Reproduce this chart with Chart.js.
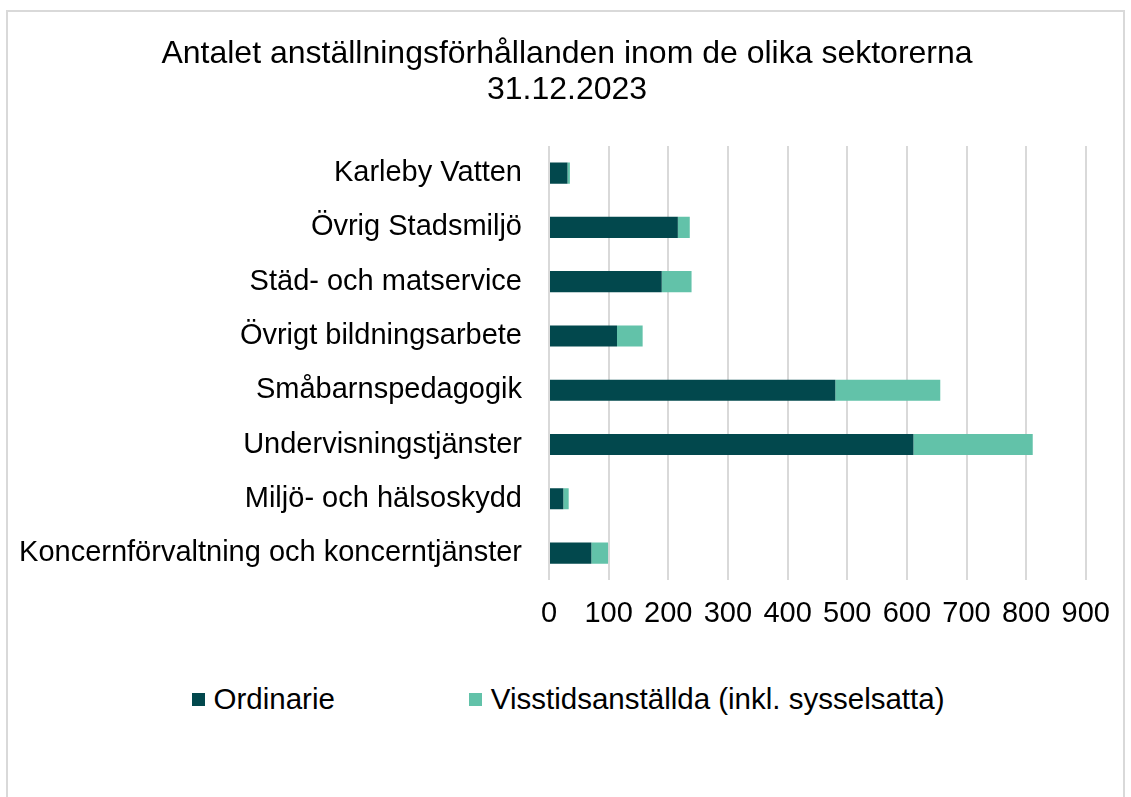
<!DOCTYPE html>
<html>
<head>
<meta charset="utf-8">
<script src="https://cdn.jsdelivr.net/npm/chart.js@4/dist/chart.umd.min.js"></script>
<style>
  body { margin: 0; background: #fff; font-family: "Liberation Sans", Arial, sans-serif; }
  #frame { position: absolute; left: 6px; top: 10px; width: 1119px; height: 800px; box-sizing: border-box; border: 2px solid #d9d9d9; background: #fff; }
  #chart { position: absolute; left: 0; top: 0; }
  #legend { position: absolute; left: 5px; right: 0; top: 670px; display: flex; justify-content: center; gap: 134px; font-size: 29.5px; color: #000; }
  .item { display: flex; align-items: center; }
  .box { width: 13px; height: 13px; margin-right: 9px; }
</style>
</head>
<body>
<div id="frame">
  <canvas id="chart" width="1118" height="647"></canvas>
  <div id="legend"></div>
</div>
<script>
const titleLines = ["Antalet anställningsförhållanden inom de olika sektorerna", "31.12.2023"];
const sectors = [
  "Karleby Vatten",
  "Övrig Stadsmiljö",
  "Städ- och matservice",
  "Övrigt bildningsarbete",
  "Småbarnspedagogik",
  "Undervisningstjänster",
  "Miljö- och hälsoskydd",
  "Koncernförvaltning och koncerntjänster"
];
const seriesNames = ["Ordinarie", "Visstidsanställda (inkl. sysselsatta)"];
const ordinarie = [31, 216, 189, 114, 480, 611, 24, 71];
const visstid = [4, 20, 50, 43, 176, 200, 9, 28];
const xTicks = [0, 100, 200, 300, 400, 500, 600, 700, 800, 900];
const colors = ["#02484d", "#62c2a9"];

const font = { family: "'Liberation Sans', Arial, sans-serif", size: 29 };

const chart = new Chart(document.getElementById("chart"), {
  type: "bar",
  data: {
    labels: sectors,
    datasets: [
      { label: seriesNames[0], data: ordinarie, backgroundColor: colors[0] },
      { label: seriesNames[1], data: visstid, backgroundColor: colors[1] }
    ]
  },
  options: {
    indexAxis: "y",
    responsive: false,
    animation: false,
    barPercentage: 0.39,
    categoryPercentage: 1,
    layout: { padding: { left: 0, right: 0, top: 0, bottom: 12 } },
    plugins: {
      legend: { display: false },
      tooltip: { enabled: false },
      title: {
        display: true,
        text: titleLines,
        color: "#000",
        font: { family: font.family, size: 32, weight: "normal", lineHeight: 1.125 },
        padding: { top: 24, bottom: 38 }
      }
    },
    scales: {
      x: {
        stacked: true,
        min: 0,
        max: 900,
        afterBuildTicks(scale) { scale.ticks = xTicks.map(v => ({ value: v })); },
        grid: { color: "#d9d9d9", lineWidth: 2, drawTicks: false },
        border: { display: false },
        ticks: { color: "#000", font: font, padding: 16, maxRotation: 0 }
      },
      y: {
        stacked: true,
        afterFit(scale) { scale.width = 541; },
        grid: { display: false },
        border: { display: false },
        ticks: { color: "#000", font: font, padding: 19 }
      },
      // empty right-hand strip, only to keep the plot clear of the frame
      yRight: {
        type: "linear",
        position: "right",
        afterFit(scale) { scale.width = 38.5; },
        grid: { display: false },
        border: { display: false },
        ticks: { display: false }
      }
    }
  }
});

// legend built from the same series names and colours
const legend = document.getElementById("legend");
seriesNames.forEach((name, i) => {
  const item = document.createElement("div");
  item.className = "item";
  const box = document.createElement("span");
  box.className = "box";
  box.style.background = colors[i];
  const txt = document.createElement("span");
  txt.textContent = name;
  item.appendChild(box);
  item.appendChild(txt);
  legend.appendChild(item);
});
</script>
</body>
</html>
